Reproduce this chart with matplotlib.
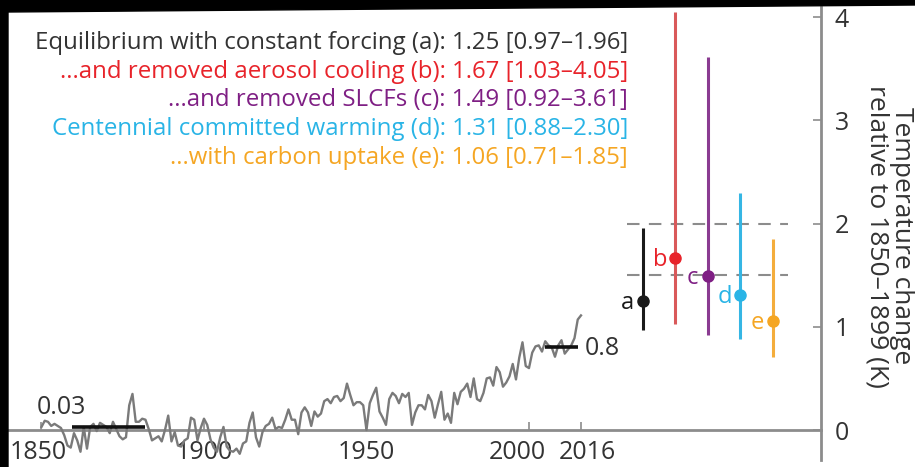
import numpy as np
import matplotlib.pyplot as plt
from matplotlib.patches import Polygon
from matplotlib.transforms import ScaledTranslation

plt.rcParams['font.family'] = ['Open Sans', 'DejaVu Sans']

# Observed annual global mean temperature, relative to 1850-1899 (K)
years = np.arange(1850, 2017)
temp = [
    0.03, 0.09, 0.08, 0.04, 0.06, 0.04, 0.02, -0.05, -0.15, -0.17,
    -0.03, -0.10, -0.21, 0.03, -0.18, 0.03, 0.06, -0.01, 0.07, 0.05,
    0.03, -0.03, 0.08, 0.01, -0.06, -0.09, -0.07, 0.24, 0.35, 0.08,
    0.08, 0.11, 0.10, 0.01, -0.10, -0.08, -0.06, -0.11, 0.00, 0.14,
    -0.11, -0.02, -0.15, -0.16, -0.10, -0.08, 0.12, 0.10, -0.10, 0.02,
    0.11, 0.05, -0.09, -0.17, -0.21, -0.07, 0.03, -0.16, -0.20, -0.21,
    -0.18, -0.23, -0.13, -0.11, 0.07, 0.17, -0.07, -0.16, -0.02, 0.04,
    0.06, 0.12, 0.01, 0.03, 0.02, 0.10, 0.20, 0.10, 0.10, -0.04,
    0.17, 0.22, 0.17, 0.04, 0.18, 0.13, 0.16, 0.28, 0.30, 0.26,
    0.32, 0.33, 0.28, 0.31, 0.45, 0.34, 0.24, 0.27, 0.27, 0.24,
    0.00, 0.26, 0.34, 0.41, 0.18, 0.12, 0.05, 0.30, 0.36, 0.33,
    0.26, 0.35, 0.32, 0.36, 0.05, 0.17, 0.24, 0.24, 0.20, 0.34,
    0.28, 0.12, 0.25, 0.37, 0.10, 0.16, 0.07, 0.36, 0.25, 0.37,
    0.40, 0.45, 0.32, 0.50, 0.30, 0.28, 0.36, 0.50, 0.51, 0.43,
    0.61, 0.56, 0.42, 0.46, 0.52, 0.64, 0.49, 0.70, 0.85, 0.62,
    0.60, 0.75, 0.81, 0.82, 0.76, 0.86, 0.82, 0.80, 0.71, 0.82,
    0.87, 0.74, 0.78, 0.82, 0.89, 1.07, 1.11,
]

# period means drawn as short black bars
period_start = [1859.5, 2005]
period_end = [1882, 2015]
period_mean = [0.03, 0.8]

# committed warming estimates: best estimate and range
letters = ['a', 'b', 'c', 'd', 'e']
names = ['Equilibrium with constant forcing', '...and removed aerosol cooling',
         '...and removed SLCFs', 'Centennial committed warming',
         '...with carbon uptake']
best = [1.25, 1.67, 1.49, 1.31, 1.06]
low = [0.97, 1.03, 0.92, 0.88, 0.71]
high = [1.96, 4.05, 3.61, 2.30, 1.85]
est_x = [2035, 2045, 2055, 2065, 2075]
colors = ['#1a1a1a', '#e8232a', '#7f1f84', '#29b4e6', '#f5a623']
bar_colors = ['#1a1a1a', '#d9595a', '#8a3b91', '#35b6e4', '#f4ad3c']

# 1.5 and 2 degree levels
targets = [1.5, 2.0]

xticks = [1850, 1900, 1950, 2000, 2016]
yticks = [0, 1, 2, 3, 4]

axis_gray = '#8c8c8c'
text_dark = '#333333'

fig = plt.figure(figsize=(9.15, 4.67), dpi=100)
ax = fig.add_axes([8 / 915, 7 / 467, 813 / 915, 453 / 467])
ax.set_xlim(1839.7, 2089.85)
ax.set_ylim(-0.29, 4.097)

ax.spines['left'].set_visible(False)
ax.spines['top'].set_visible(False)
ax.spines['bottom'].set_position(('data', 0))
ax.spines['bottom'].set_color(axis_gray)
ax.spines['bottom'].set_linewidth(2)
ax.spines['right'].set_color(axis_gray)
ax.spines['right'].set_linewidth(2)

ax.yaxis.tick_right()
ax.set_yticks(yticks)
ax.set_yticklabels([str(t) for t in yticks])
ax.tick_params(axis='y', direction='in', length=6, width=1.2, color=axis_gray,
               labelsize=18, labelcolor=text_dark, pad=10)
ax.set_xticks(xticks)
ax.set_xticklabels([str(t) for t in xticks])
ax.tick_params(axis='x', direction='in', length=6, width=1.2, color=axis_gray,
               labelsize=18, labelcolor=text_dark, pad=7)
# pull 2000 and 2016 apart a little
xl = ax.get_xticklabels()
xl[3].set_transform(xl[3].get_transform() + ScaledTranslation(-0.12, 0, fig.dpi_scale_trans))
xl[4].set_transform(xl[4].get_transform() + ScaledTranslation(0.06, 0, fig.dpi_scale_trans))
xl[0].set_transform(xl[0].get_transform() + ScaledTranslation(-0.03, 0, fig.dpi_scale_trans))

# observations
ax.plot(years, temp, color='#7a7a7a', lw=1.7, zorder=3)

# period means
for x0, x1, m in zip(period_start, period_end, period_mean):
    ax.plot([x0, x1], [m, m], color='#111111', lw=2.6, zorder=4, solid_capstyle='butt')
ax.annotate(f'{period_mean[0]:.2f}', xy=(1848.5, period_mean[0]), xytext=(0, 9.5),
            textcoords='offset points', ha='left', va='baseline',
            fontsize=18, color=text_dark)
ax.annotate(f'{period_mean[1]:.1f}', xy=(period_end[1], period_mean[1]), xytext=(5, -1),
            textcoords='offset points', ha='left', va='center',
            fontsize=18, color=text_dark)

# 1.5 and 2 degree dashed levels
for t in targets:
    ax.plot([2030.2, 2079.7], [t, t], color='#8c8c8c', lw=1.5, dashes=(6, 4.5), zorder=2)

# ranges and best estimates
for i in range(len(letters)):
    ax.vlines(est_x[i], low[i], high[i], color=bar_colors[i], lw=2.2, zorder=5)
    ax.plot(est_x[i], best[i], 'o', color=colors[i], ms=8, zorder=6)
    ax.annotate(letters[i], xy=(est_x[i], best[i]), xytext=(-11, -1.5),
                textcoords='offset points', ha='center', va='center',
                fontsize=17, color=colors[i], zorder=6)

# legend-style text block
baselines = [49, 78, 106, 135, 164]
for i in range(len(letters)):
    s = f'{names[i]} ({letters[i]}): {best[i]:.2f} [{low[i]:.2f}\u2013{high[i]:.2f}]'
    fig.text(628 / 915, 1 - baselines[i] / 467, s, ha='right', va='baseline',
             fontsize=17.3, color=text_dark if i == 0 else colors[i])

fig.text(889 / 915, 1 - 236 / 467, 'Temperature change\nrelative to 1850\u20131899 (K)',
         rotation=270, ha='center', va='center', multialignment='center',
         fontsize=19, color=text_dark, linespacing=1.0)

# dark frame edges
fig.patches.append(Polygon([(0, 0), (8 / 915, 0), (8 / 915, 1 - 12 / 467),
                            (1, 1 - 5 / 467), (1, 1), (0, 1)],
                           closed=True, transform=fig.transFigure,
                           color='black', zorder=10))

fig.savefig('out.png', dpi=100, facecolor='white')
